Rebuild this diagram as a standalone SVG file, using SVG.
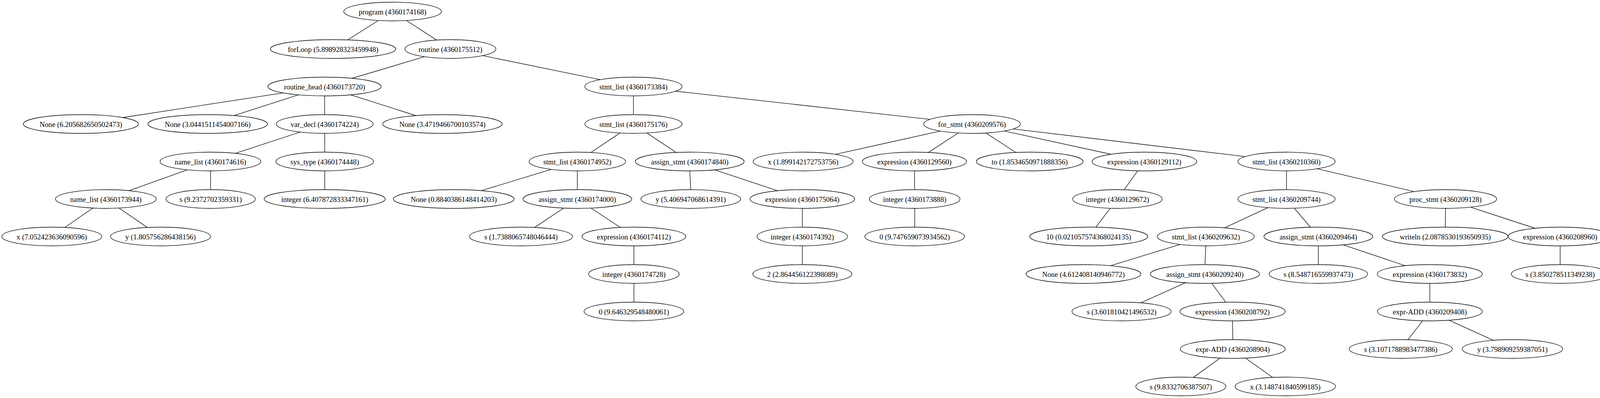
<svg xmlns="http://www.w3.org/2000/svg" width="4156" height="1019" viewBox="0 0 4156 1019">
<style>
.node ellipse{fill:none;stroke:#000;stroke-width:1.33}
.node text{font-family:"Liberation Serif","Times New Roman",serif;font-size:18.67px;text-anchor:middle;fill:#000}
#connectors line{stroke:#000;stroke-width:1.33;fill:none}
</style>
<rect x="0" y="0" width="4156" height="1019" fill="#fff"/>
<g id="connectors">
<line x1="968.6" y1="52.5" x2="889.8" y2="102.2"/>
<line x1="1040.5" y1="52.5" x2="1117.7" y2="102.6"/>
<line x1="1086.8" y1="145.2" x2="901.2" y2="200.5"/>
<line x1="1235.6" y1="142.4" x2="1536.3" y2="204"/>
<line x1="724.6" y1="237.8" x2="314.1" y2="301"/>
<line x1="764.3" y1="242.8" x2="598.9" y2="295.9"/>
<line x1="831" y1="245.5" x2="831.2" y2="293.5"/>
<line x1="897.7" y1="242.8" x2="1064.9" y2="296"/>
<line x1="1621.6" y1="245.5" x2="1621.6" y2="293.5"/>
<line x1="1729.6" y1="233.5" x2="2381" y2="305.6"/>
<line x1="768.3" y1="338.2" x2="602.4" y2="392.6"/>
<line x1="831.3" y1="341.5" x2="831.3" y2="389.5"/>
<line x1="1587.1" y1="340.6" x2="1512.5" y2="390.5"/>
<line x1="1656.2" y1="340.6" x2="1730.8" y2="390.3"/>
<line x1="2407" y1="335.6" x2="2138.6" y2="395.2"/>
<line x1="2453.1" y1="340.5" x2="2376.5" y2="390.4"/>
<line x1="2523.8" y1="340.5" x2="2600.4" y2="390.3"/>
<line x1="2570.7" y1="335.4" x2="2844.4" y2="395"/>
<line x1="2593.8" y1="330.1" x2="3187.6" y2="400.9"/>
<line x1="479.4" y1="434.8" x2="330.4" y2="488.2"/>
<line x1="539" y1="437.5" x2="539.2" y2="485.5"/>
<line x1="831.3" y1="437.5" x2="831.3" y2="485.5"/>
<line x1="1411.4" y1="433.7" x2="1232" y2="488.1"/>
<line x1="1478" y1="437.5" x2="1478" y2="485.5"/>
<line x1="1765.8" y1="437.5" x2="1768.3" y2="485.5"/>
<line x1="1829.7" y1="434.8" x2="1990.5" y2="488.4"/>
<line x1="2341.2" y1="437.5" x2="2341.5" y2="485.5"/>
<line x1="2912.5" y1="437.3" x2="2877.7" y2="485.8"/>
<line x1="3293.5" y1="437.5" x2="3293.5" y2="485.5"/>
<line x1="3372.3" y1="432.1" x2="3620.3" y2="490.6"/>
<line x1="237.6" y1="532.7" x2="166" y2="582.3"/>
<line x1="304.8" y1="532.7" x2="377.2" y2="582.4"/>
<line x1="1443.1" y1="532.7" x2="1368.6" y2="582.4"/>
<line x1="1513" y1="532.7" x2="1587.9" y2="582.3"/>
<line x1="2054" y1="533.5" x2="2054" y2="581.5"/>
<line x1="2341.6" y1="533.5" x2="2341.6" y2="581.5"/>
<line x1="2842.4" y1="533.2" x2="2805.3" y2="581.7"/>
<line x1="3245.8" y1="531.7" x2="3134.7" y2="583.3"/>
<line x1="3313.6" y1="533.2" x2="3354.8" y2="581.8"/>
<line x1="3700.6" y1="533.5" x2="3700" y2="581.5"/>
<line x1="3764.6" y1="530.4" x2="3929.7" y2="584.5"/>
<line x1="1622.8" y1="629.5" x2="1622.8" y2="677.5"/>
<line x1="2054" y1="629.5" x2="2054" y2="677.5"/>
<line x1="3020.8" y1="625.8" x2="2842.8" y2="680.3"/>
<line x1="3086.9" y1="629.5" x2="3084.7" y2="677.5"/>
<line x1="3375" y1="629.5" x2="3375" y2="677.5"/>
<line x1="3438.5" y1="626.9" x2="3597.4" y2="680.3"/>
<line x1="3994" y1="629.5" x2="3994" y2="677.5"/>
<line x1="1622.8" y1="725.5" x2="1622.8" y2="773.5"/>
<line x1="3034.8" y1="723.9" x2="2920.5" y2="775.4"/>
<line x1="3102.2" y1="725.3" x2="3137.9" y2="773.7"/>
<line x1="3660.4" y1="725.5" x2="3660.4" y2="773.5"/>
<line x1="3155.4" y1="821.5" x2="3155.8" y2="869.5"/>
<line x1="3642" y1="821.3" x2="3604.4" y2="869.7"/>
<line x1="3709.6" y1="819.8" x2="3822.9" y2="871.3"/>
<line x1="3123.6" y1="916.8" x2="3054.9" y2="966.4"/>
<line x1="3188.4" y1="916.8" x2="3257.9" y2="966.3"/>
</g>
<g id="n1" class="node"><ellipse cx="1005" cy="29.5" rx="125" ry="24"/><text x="1005" y="36.5">program (4360174168)</text></g>
<g id="n2" class="node"><ellipse cx="852.7" cy="125.5" rx="160.7" ry="24"/><text x="852.7" y="132.5">forLoop (5.898928323459948)</text></g>
<g id="n3" class="node"><ellipse cx="1153" cy="125.5" rx="116.5" ry="24"/><text x="1153" y="132.5">routine (4360175512)</text></g>
<g id="n4" class="node"><ellipse cx="830.8" cy="221.5" rx="145" ry="24"/><text x="830.8" y="228.5">routine_head (4360173720)</text></g>
<g id="n5" class="node"><ellipse cx="1621.6" cy="221.5" rx="124.5" ry="24"/><text x="1621.6" y="228.5">stmt_list (4360173384)</text></g>
<g id="n6" class="node"><ellipse cx="207" cy="317.5" rx="147.3" ry="24"/><text x="207" y="324.5">None (6.205682650502473)</text></g>
<g id="n7" class="node"><ellipse cx="531.7" cy="317.5" rx="153" ry="24"/><text x="531.7" y="324.5">None (3.0441511454007166)</text></g>
<g id="n8" class="node"><ellipse cx="831.3" cy="317.5" rx="124" ry="24"/><text x="831.3" y="324.5">var_decl (4360174224)</text></g>
<g id="n9" class="node"><ellipse cx="1132.6" cy="317.5" rx="153" ry="24"/><text x="1132.6" y="324.5">None (3.4719466700103574)</text></g>
<g id="n10" class="node"><ellipse cx="1621.6" cy="317.5" rx="124.5" ry="24"/><text x="1621.6" y="324.5">stmt_list (4360175176)</text></g>
<g id="n11" class="node"><ellipse cx="2488.4" cy="317.5" rx="123.7" ry="24"/><text x="2488.4" y="324.5">for_stmt (4360209576)</text></g>
<g id="n12" class="node"><ellipse cx="538.8" cy="413.5" rx="129" ry="24"/><text x="538.8" y="420.5">name_list (4360174616)</text></g>
<g id="n13" class="node"><ellipse cx="831.3" cy="413.5" rx="125" ry="24"/><text x="831.3" y="420.5">sys_type (4360174448)</text></g>
<g id="n14" class="node"><ellipse cx="1478" cy="413.5" rx="123.5" ry="24"/><text x="1478" y="420.5">stmt_list (4360174952)</text></g>
<g id="n15" class="node"><ellipse cx="1765.7" cy="413.5" rx="139.3" ry="24"/><text x="1765.7" y="420.5">assign_stmt (4360174840)</text></g>
<g id="n16" class="node"><ellipse cx="2056" cy="413.5" rx="128" ry="24"/><text x="2056" y="420.5">x (1.899142172753756)</text></g>
<g id="n17" class="node"><ellipse cx="2341" cy="413.5" rx="133.5" ry="24"/><text x="2341" y="420.5">expression (4360129560)</text></g>
<g id="n18" class="node"><ellipse cx="2636" cy="413.5" rx="136.6" ry="24"/><text x="2636" y="420.5">to (1.8534650971888356)</text></g>
<g id="n19" class="node"><ellipse cx="2929.6" cy="413.5" rx="134" ry="24"/><text x="2929.6" y="420.5">expression (4360129112)</text></g>
<g id="n20" class="node"><ellipse cx="3293.5" cy="413.5" rx="124.5" ry="24"/><text x="3293.5" y="420.5">stmt_list (4360210360)</text></g>
<g id="n21" class="node"><ellipse cx="271" cy="509.5" rx="129" ry="24"/><text x="271" y="516.5">name_list (4360173944)</text></g>
<g id="n22" class="node"><ellipse cx="539.3" cy="509.5" rx="114.3" ry="24"/><text x="539.3" y="516.5">s (9.2372702359331)</text></g>
<g id="n23" class="node"><ellipse cx="831.3" cy="509.5" rx="155" ry="24"/><text x="831.3" y="516.5">integer (6.407872833347161)</text></g>
<g id="n24" class="node"><ellipse cx="1161.6" cy="509.5" rx="154.5" ry="24"/><text x="1161.6" y="516.5">None (0.8840386148414203)</text></g>
<g id="n25" class="node"><ellipse cx="1478" cy="509.5" rx="139.2" ry="24"/><text x="1478" y="516.5">assign_stmt (4360174000)</text></g>
<g id="n26" class="node"><ellipse cx="1768.4" cy="509.5" rx="127.7" ry="24"/><text x="1768.4" y="516.5">y (5.406947068614391)</text></g>
<g id="n27" class="node"><ellipse cx="2054" cy="509.5" rx="134" ry="24"/><text x="2054" y="516.5">expression (4360175064)</text></g>
<g id="n28" class="node"><ellipse cx="2341.6" cy="509.5" rx="116" ry="24"/><text x="2341.6" y="516.5">integer (4360173888)</text></g>
<g id="n29" class="node"><ellipse cx="2860.6" cy="509.5" rx="114.6" ry="24"/><text x="2860.6" y="516.5">integer (4360129672)</text></g>
<g id="n30" class="node"><ellipse cx="3293.5" cy="509.5" rx="124.5" ry="24"/><text x="3293.5" y="516.5">stmt_list (4360209744)</text></g>
<g id="n31" class="node"><ellipse cx="3700.6" cy="509.5" rx="130.8" ry="24"/><text x="3700.6" y="516.5">proc_stmt (4360209128)</text></g>
<g id="n32" class="node"><ellipse cx="132.6" cy="605.5" rx="128" ry="24"/><text x="132.6" y="612.5">x (7.052423636090596)</text></g>
<g id="n33" class="node"><ellipse cx="411" cy="605.5" rx="128" ry="24"/><text x="411" y="612.5">y (1.805756286438156)</text></g>
<g id="n34" class="node"><ellipse cx="1333.8" cy="605.5" rx="132" ry="24"/><text x="1333.8" y="612.5">s (1.7388065748046444)</text></g>
<g id="n35" class="node"><ellipse cx="1622.8" cy="605.5" rx="133" ry="24"/><text x="1622.8" y="612.5">expression (4360174112)</text></g>
<g id="n36" class="node"><ellipse cx="2054" cy="605.5" rx="116" ry="24"/><text x="2054" y="612.5">integer (4360174392)</text></g>
<g id="n37" class="node"><ellipse cx="2341.6" cy="605.5" rx="127.7" ry="24"/><text x="2341.6" y="612.5">0 (9.747659073934562)</text></g>
<g id="n38" class="node"><ellipse cx="2787" cy="605.5" rx="151.2" ry="24"/><text x="2787" y="612.5">10 (0.021057574368024135)</text></g>
<g id="n39" class="node"><ellipse cx="3087" cy="605.5" rx="124" ry="24"/><text x="3087" y="612.5">stmt_list (4360209632)</text></g>
<g id="n40" class="node"><ellipse cx="3375" cy="605.5" rx="139.3" ry="24"/><text x="3375" y="612.5">assign_stmt (4360209464)</text></g>
<g id="n41" class="node"><ellipse cx="3700" cy="605.5" rx="161" ry="24"/><text x="3700" y="612.5">writeln (2.0878530193650935)</text></g>
<g id="n42" class="node"><ellipse cx="3994" cy="605.5" rx="133.3" ry="24"/><text x="3994" y="612.5">expression (4360208960)</text></g>
<g id="n43" class="node"><ellipse cx="1622.8" cy="701.5" rx="116" ry="24"/><text x="1622.8" y="708.5">integer (4360174728)</text></g>
<g id="n44" class="node"><ellipse cx="2054" cy="701.5" rx="127" ry="24"/><text x="2054" y="708.5">2 (2.864456122398089)</text></g>
<g id="n45" class="node"><ellipse cx="2773.7" cy="701.5" rx="147" ry="24"/><text x="2773.7" y="708.5">None (4.612408140946772)</text></g>
<g id="n46" class="node"><ellipse cx="3084.6" cy="701.5" rx="139.7" ry="24"/><text x="3084.6" y="708.5">assign_stmt (4360209240)</text></g>
<g id="n47" class="node"><ellipse cx="3375" cy="701.5" rx="126" ry="24"/><text x="3375" y="708.5">s (8.548716559937473)</text></g>
<g id="n48" class="node"><ellipse cx="3660.4" cy="701.5" rx="134.4" ry="24"/><text x="3660.4" y="708.5">expression (4360173832)</text></g>
<g id="n49" class="node"><ellipse cx="3994" cy="701.5" rx="125" ry="24"/><text x="3994" y="708.5">s (3.850278511349238)</text></g>
<g id="n50" class="node"><ellipse cx="1622.8" cy="797.5" rx="127.7" ry="24"/><text x="1622.8" y="804.5">0 (9.646329548480061)</text></g>
<g id="n51" class="node"><ellipse cx="2871.3" cy="797.5" rx="127" ry="24"/><text x="2871.3" y="804.5">s (3.601810421496532)</text></g>
<g id="n52" class="node"><ellipse cx="3155.4" cy="797.5" rx="134.8" ry="24"/><text x="3155.4" y="804.5">expression (4360208792)</text></g>
<g id="n53" class="node"><ellipse cx="3660.4" cy="797.5" rx="134.4" ry="24"/><text x="3660.4" y="804.5">expr-ADD (4360209408)</text></g>
<g id="n54" class="node"><ellipse cx="3155.8" cy="893.5" rx="134.4" ry="24"/><text x="3155.8" y="900.5">expr-ADD (4360208904)</text></g>
<g id="n55" class="node"><ellipse cx="3586" cy="893.5" rx="132" ry="24"/><text x="3586" y="900.5">s (3.1071788983477386)</text></g>
<g id="n56" class="node"><ellipse cx="3871.8" cy="893.5" rx="128.7" ry="24"/><text x="3871.8" y="900.5">y (3.798909259387051)</text></g>
<g id="n57" class="node"><ellipse cx="3023" cy="989.5" rx="115.3" ry="24"/><text x="3023" y="996.5">s (9.8332706387507)</text></g>
<g id="n58" class="node"><ellipse cx="3290.4" cy="989.5" rx="128.6" ry="24"/><text x="3290.4" y="996.5">x (3.148741840599185)</text></g>
</svg>
